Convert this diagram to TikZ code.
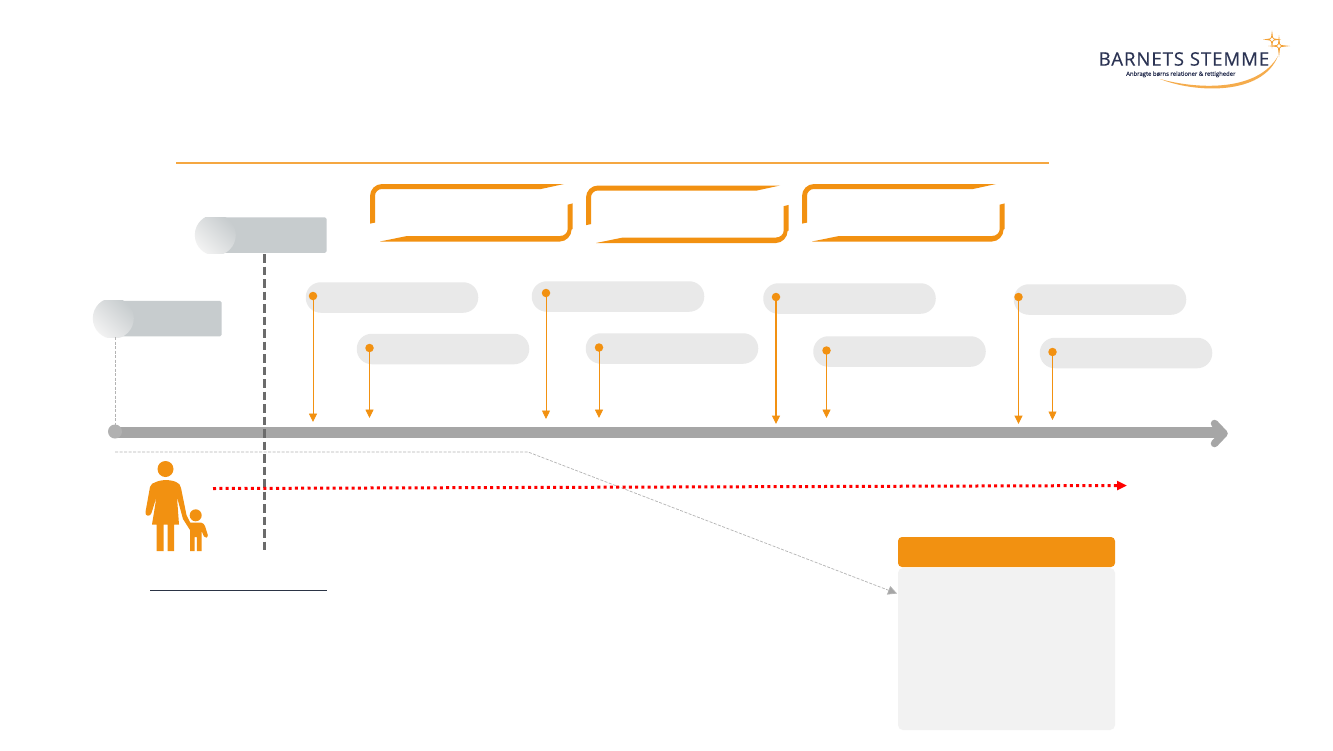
\documentclass[tikz,border=0pt]{standalone}
\usepackage{fontspec}
\setmainfont{Open Sans}
\usetikzlibrary{arrows.meta}
\definecolor{orng}{HTML}{F29111}
\definecolor{pillg}{HTML}{E9E9E9}
\definecolor{capg}{HTML}{C7CCCE}
\definecolor{lineg}{HTML}{A6A6A6}
\definecolor{navy}{HTML}{2B3353}
\definecolor{inkline}{HTML}{2B3445}
\tikzset{
  pillbox/.style={fill=pillg,rounded corners=15pt,minimum width=172.5pt,minimum height=30.5pt,inner sep=0pt},
  dotmark/.style={circle,fill=orng,minimum size=8.5pt,inner sep=0pt},
  droparrow/.style={draw=orng,line width=0.9pt,-{Triangle[length=8.5pt,width=8pt,fill=orng]},shorten <=-1pt},
  thindash/.style={draw=lineg!85,line width=0.7pt,dash pattern=on 3pt off 1.5pt},
  capbar/.style={fill=capg,rounded corners=1.5pt,minimum height=35.5pt,inner sep=0pt},
  capball/.style={circle,minimum size=41pt,inner sep=0pt,top color=capg,bottom color=gray!10,shading angle=-45},
  framepart/.style={fill=orng,draw=none},
  figurepart/.style={fill=orng,draw=none},
}
\newcommand{\orangeframe}{%
  \fill[framepart] (370,223.6) -- (370,196) .. controls (370,189.4) and (375.4,184) .. (382,184) -- (564,184)
    -- (541,189) -- (382,189) .. controls (378,189) and (375,192) .. (375,196) -- (375,222.6) -- cycle;
  \fill[framepart] (380,241.5) -- (407,236) -- (560,236) .. controls (564,236) and (567.7,233) .. (567.7,229) -- (567.7,204.7)
    -- (572.6,203.4) -- (572.6,229) -- (571.6,229.5) .. controls (571.6,236) and (566,241.5) .. (560,241.5) -- cycle;
}
\newcommand{\logostar}[3]{%
  \fill[orng!85] (#1,#2-#3) -- (#1+1.1,#2-1.1) -- (#1+#3,#2) -- (#1+1.1,#2+1.1) -- (#1,#2+#3) -- (#1-1.1,#2+1.1) -- (#1-#3,#2) -- (#1-1.1,#2-1.1) -- cycle;
  \fill[orng!85] (#1,#2-3.2) -- (#1+3.2,#2) -- (#1,#2+3.2) -- (#1-3.2,#2) -- cycle;
  \fill[white] (#1,#2-1.9) -- (#1+1.9,#2) -- (#1,#2+1.9) -- (#1-1.9,#2) -- cycle;
}
\begin{document}
\begin{tikzpicture}[x=1pt,y=-1pt]
\useasboundingbox (0,0) rectangle (1333,750);
\fill[white] (0,0) rectangle (1333,750);

% logo
\node[anchor=west,inner sep=0pt,text=navy] (logotitle) at (1098.5,59) {\fontsize{18.6pt}{20pt}\selectfont\addfontfeature{LetterSpace=5,FakeBold=0.4}BARNETS STEMME};
\node[anchor=west,inner sep=0pt,text=navy] (logosub) at (1126,74.3) {\fontsize{5.9pt}{7pt}\selectfont\addfontfeature{FakeBold=0.5}Anbragte børns relationer \& rettigheder};
\fill[orng!75] (1160,79) .. controls (1195,93) and (1262,96) .. (1278,56) .. controls (1258,91) and (1200,90) .. (1160,79) -- cycle;
\logostar{1272}{39.5}{9}
\logostar{1279}{46}{11}

% top rule
\coordinate (ruleL) at (176,163);
\coordinate (ruleR) at (1049,163);
\draw[orng!80,line width=1.2pt] (ruleL) -- (ruleR);

% frames
\orangeframe
\begin{scope}[shift={(216,1.5)}]\orangeframe\end{scope}
\begin{scope}[shift={(432,0)}]\orangeframe\end{scope}

% time axis
\coordinate (axisS) at (115,432.5);
\coordinate (axisE) at (1222,432.5);
\draw[lineg,line width=11.5pt] (axisS) -- (axisE);
\draw[lineg,line width=7.5pt,line cap=round,line join=round] (1214.5,423.5) -- (1224,433.5) -- (1214.5,443.5);
\node[circle,fill=lineg!88,minimum size=14pt,inner sep=0pt] (axisdot) at (115,431.5) {};

% caps
\node[capbar,minimum width=105pt] (capA) at (169,318.5) {};
\begin{scope}
  \clip (80,300.7) rectangle (150,337);
  \node[capball] (ballA) at (113.3,318.3) {};
\end{scope}
\node[capbar,minimum width=105pt] (capB) at (274,235) {};
\begin{scope}
  \clip (180,217) rectangle (250,253);
  \node[capball] (ballB) at (215.3,235) {};
\end{scope}

% dashed connectors
\coordinate (ballAfoot) at (115.3,337);
\coordinate (axisdottop) at (115.3,425);
\draw[thindash] (ballAfoot) -- (axisdottop);
\coordinate (capBfoot) at (264.5,254);
\coordinate (dashfoot) at (264.5,551);
\draw[draw=black!58,line width=3.2pt,dash pattern=on 8.5pt off 4pt] (capBfoot) -- (dashfoot);

% lower boxes
\node[fill=orng,rounded corners=4pt,minimum width=217pt,minimum height=30pt,inner sep=0pt] (boxhead) at (1006.5,552) {};
\node[fill=black!5,rounded corners=5pt,minimum width=217pt,minimum height=162pt,inner sep=0pt] (boxbody) at (1006.5,649) {};

% thin path
\coordinate (pathS) at (115,452);
\coordinate (pathM) at (528,452);
\coordinate (pathE) at (897,593.5);
\draw[thindash,-{Triangle[length=9pt,width=9pt,fill=lineg]}] (pathS) -- (pathM) -- (pathE);

% red dotted
\coordinate (redS) at (213,488.5);
\coordinate (redE) at (1127,485.5);
\draw[draw=red,line width=3pt,dash pattern=on 3pt off 3.3pt,-{Triangle[length=10pt,width=9pt,fill=red]}] (redS) -- (redE);

% pills and drop lines
\foreach \n/\px/\py/\dx/\dy/\ay/\lw in {
  a/392/297.5/313/296/422/0.9,
  b/443/349/369.5/348/418/0.9,
  c/618/296.5/546/293/419/0.7,
  d/672/348.5/599/347.5/418/0.9,
  e/849.5/298.5/776/297/424/1.2,
  f/899.5/351.5/826.5/350.5/418/0.9,
  g/1100/299.5/1018.5/297/424/1.2,
  h/1126/353/1052.5/352/420/0.5}{
  \node[pillbox] (pill\n) at (\px,\py) {};
  \node[dotmark] (dot\n) at (\dx,\dy) {};
  \coordinate (tip\n) at (\dx,\ay);
  \draw[droparrow,line width=\lw pt] (dot\n.center) -- (tip\n);
}

% woman
\fill[figurepart] (165.5,469) circle[radius=8];
\fill[figurepart] (156,482) .. controls (161,479.5) and (171,479.5) .. (176,482)
  .. controls (179,483) and (180.5,485) .. (181,488)
  -- (186.5,515) -- (192,526) -- (190,530) -- (183,519) -- (177,497)
  -- (179,524.5) -- (174.2,524.5) -- (174.2,551) -- (167.5,551) -- (167.5,524.5) -- (163.5,524.5) -- (163.5,551) -- (156.5,551) -- (156.5,524.5) -- (152,524.5)
  -- (156.5,497) -- (151.5,513) .. controls (150.5,517) and (144.5,516.5) .. (145.5,512)
  -- (150,487) .. controls (150.5,484) and (153,483) .. (156,482) -- cycle;
% child
\fill[figurepart] (195.7,515.3) circle[radius=6];
\fill[figurepart] (190,522.5) -- (201,522.5) .. controls (203,523) and (204,524) .. (205,526)
  -- (207.8,535) .. controls (208,538) and (205,538.5) .. (204,536.5)
  -- (201.6,531) -- (201.6,551) -- (196.8,551) -- (196.8,537) -- (194.6,537) -- (194.6,551) -- (190,551) -- cycle;

% underline
\coordinate (ulL) at (150,590.8);
\coordinate (ulR) at (326.5,590.8);
\draw[inkline,line width=1.3pt] (ulL) -- (ulR);
\end{tikzpicture}
\end{document}
